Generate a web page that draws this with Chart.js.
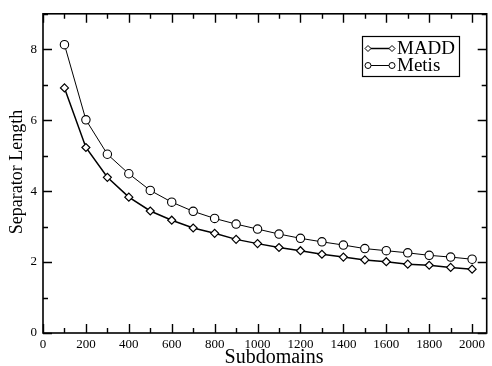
<!DOCTYPE html>
<html>
<head>
<meta charset="utf-8">
<script src="https://cdn.jsdelivr.net/npm/chart.js@4/dist/chart.umd.min.js"></script>
<style>
  html, body { margin: 0; padding: 0; background: #fff; }
  #wrap { width: 492px; height: 366px; position: relative; }
</style>
</head>
<body>
<div id="wrap"><canvas id="c" width="492" height="366"></canvas></div>
<script>
const subdomains = [100,200,300,400,500,600,700,800,900,1000,1100,1200,1300,1400,1500,1600,1700,1800,1900,2000];
const madd  = [6.91,5.23,4.39,3.83,3.44,3.18,2.96,2.81,2.64,2.52,2.41,2.32,2.22,2.14,2.06,2.01,1.94,1.91,1.85,1.80];
const metis = [8.13,6.01,5.04,4.49,4.02,3.69,3.43,3.23,3.07,2.93,2.79,2.67,2.57,2.48,2.38,2.32,2.26,2.19,2.14,2.08];
const seriesNames = ['MADD', 'Metis'];
const xTitle = 'Subdomains';
const yTitle = 'Separator Length';
const xMajorTicks = [0,200,400,600,800,1000,1200,1400,1600,1800,2000];
const xMinorTicks = [100,300,500,700,900,1100,1300,1500,1700,1900];
const yMajorTicks = [0,2,4,6,8];
const yMinorTicks = [1,3,5,7,9];

const SERIF = '"Liberation Serif", "Times New Roman", serif';

const framePlugin = {
  id: 'frame',
  afterDraw(chart) {
    const ctx = chart.ctx;
    const a = chart.chartArea;
    const xs = chart.scales.x, ys = chart.scales.y;
    ctx.save();
    ctx.strokeStyle = '#000';
    ctx.lineWidth = 1.6;
    ctx.strokeRect(a.left, a.top, a.right - a.left, a.bottom - a.top);
    ctx.lineWidth = 1.4;
    ctx.beginPath();
    const xt = (vals, len) => vals.forEach(v => {
      const px = Math.round(xs.getPixelForValue(v)) + 0.5;
      ctx.moveTo(px, a.bottom); ctx.lineTo(px, a.bottom - len);
      ctx.moveTo(px, a.top); ctx.lineTo(px, a.top + len);
    });
    const yt = (vals, len) => vals.forEach(v => {
      const py = Math.round(ys.getPixelForValue(v)) + 0.5;
      ctx.moveTo(a.left, py); ctx.lineTo(a.left + len, py);
      ctx.moveTo(a.right, py); ctx.lineTo(a.right - len, py);
    });
    xt(xMajorTicks, 9); xt(xMinorTicks, 5);
    yt(yMajorTicks, 9); yt(yMinorTicks, 5);
    ctx.stroke();

    // axis titles
    ctx.fillStyle = '#000';
    ctx.textAlign = 'center';
    ctx.textBaseline = 'middle';
    ctx.font = '20px ' + SERIF;
    ctx.fillText(xTitle, 274, 358);
    ctx.save();
    ctx.translate(17, 172);
    ctx.rotate(-Math.PI / 2);
    ctx.font = '18px ' + SERIF;
    ctx.fillText(yTitle, 0, 0);
    ctx.restore();

    // legend
    const lx = 362, ly = 36, lw = 97, lh = 40;
    ctx.fillStyle = '#fff';
    ctx.fillRect(lx, ly, lw, lh);
    ctx.lineWidth = 1.2;
    ctx.strokeRect(lx + 0.5, ly + 0.5, lw, lh);
    const rows = [
      {name: seriesNames[0], y: 48.5, style: 'rectRot', lw: 1.5},
      {name: seriesNames[1], y: 65.5, style: 'circle', lw: 1}
    ];
    rows.forEach(r => {
      ctx.strokeStyle = '#000';
      ctx.lineWidth = r.lw;
      ctx.beginPath();
      ctx.moveTo(368, r.y); ctx.lineTo(392, r.y);
      ctx.stroke();
      ctx.lineWidth = 1;
      ctx.fillStyle = '#fff';
      [368, 392].forEach(px => {
        Chart.helpers.drawPoint(ctx, {pointStyle: r.style, radius: 3, borderWidth: 1}, px, r.y);
      });
      ctx.fillStyle = '#000';
      ctx.textAlign = 'left';
      ctx.textBaseline = 'middle';
      ctx.font = '19px ' + SERIF;
      ctx.fillText(r.name, 397, r.y + 1);
    });
    ctx.restore();
  }
};

new Chart(document.getElementById('c'), {
  type: 'line',
  data: {
    datasets: [
      {
        label: seriesNames[0],
        data: subdomains.map((x, i) => ({x, y: madd[i]})),
        borderColor: '#000', borderWidth: 1.5,
        pointStyle: 'rectRot', pointRadius: 4, pointBorderWidth: 1.2,
        pointBackgroundColor: '#fff', pointBorderColor: '#000',
        tension: 0, fill: false
      },
      {
        label: seriesNames[1],
        data: subdomains.map((x, i) => ({x, y: metis[i]})),
        borderColor: '#000', borderWidth: 1,
        pointStyle: 'circle', pointRadius: 4.2, pointBorderWidth: 1.1,
        pointBackgroundColor: '#fff', pointBorderColor: '#000',
        tension: 0, fill: false
      }
    ]
  },
  options: {
    responsive: false,
    animation: false,
    events: [],
    layout: { padding: { top: 13, right: 1, left: 0, bottom: 0 } },
    plugins: { legend: { display: false }, tooltip: { enabled: false } },
    scales: {
      x: {
        type: 'linear', min: 0, max: 2068,
        grid: { display: false, drawTicks: false },
        border: { display: false },
        ticks: {
          stepSize: 200, includeBounds: false, maxRotation: 0, autoSkip: false,
          color: '#000', font: { family: SERIF, size: 13 }, padding: 4,
          callback: v => String(v)
        },
        afterFit(s) { s.height = 33; }
      },
      y: {
        type: 'linear', min: 0, max: 9,
        grid: { display: false, drawTicks: false },
        border: { display: false },
        ticks: {
          stepSize: 2, includeBounds: false, autoSkip: false,
          color: '#000', font: { family: SERIF, size: 13 }, padding: 6,
          callback: v => String(v)
        },
        afterFit(s) { s.width = 43; }
      }
    }
  },
  plugins: [framePlugin]
});
</script>
</body>
</html>
